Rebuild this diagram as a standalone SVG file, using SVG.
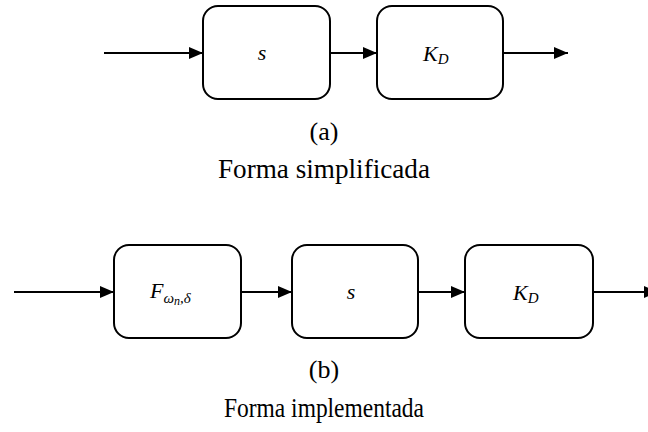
<svg xmlns="http://www.w3.org/2000/svg" width="648" height="432" viewBox="0 0 648 432">
  <defs>
    <marker id="arrow" viewBox="0 0 14 12" refX="14" refY="6" markerWidth="14" markerHeight="12" markerUnits="userSpaceOnUse" orient="auto">
      <path d="M0,0 L14,6 L0,12 Z" fill="#000"/>
    </marker>
    <style>
      .block { fill: #fff; stroke: #000; stroke-width: 2; }
      .wire { fill: none; stroke: #000; stroke-width: 2; marker-end: url(#arrow); }
      .math { font-family: "Liberation Serif", "DejaVu Serif", serif; font-style: italic; font-size: 22px; fill: #000; }
      .sub { font-size: 15px; }
      .subsub { font-size: 12px; }
      .cap { font-family: "Liberation Serif", "DejaVu Serif", serif; font-size: 28px; fill: #000; text-anchor: middle; }
      .tag { font-family: "Liberation Serif", "DejaVu Serif", serif; font-size: 26px; fill: #000; text-anchor: middle; }
    </style>
  </defs>

  <!-- (a) simplified form -->
  <g id="a-s">
    <rect class="block" x="203" y="6" width="127" height="93" rx="15"/>
    <text class="math" x="262" y="60" text-anchor="middle">s</text>
  </g>
  <g id="a-kd">
    <rect class="block" x="377" y="6" width="126" height="93" rx="15"/>
    <text class="math" x="423" y="61">K<tspan class="sub" dy="3">D</tspan></text>
  </g>
  <g id="a-connectors">
    <line class="wire" x1="104" y1="53" x2="203" y2="53"/>
    <line class="wire" x1="330" y1="53" x2="377" y2="53"/>
    <line class="wire" x1="503" y1="53" x2="568" y2="53"/>
  </g>
  <text class="tag" x="324" y="140">(a)</text>
  <text class="cap" x="324" y="178" textLength="212" lengthAdjust="spacingAndGlyphs">Forma simplificada</text>

  <!-- (b) implemented form -->
  <g id="b-f">
    <rect class="block" x="114" y="245" width="127" height="93" rx="15"/>
    <text class="math" x="150" y="298">F<tspan class="sub" dy="5">ω</tspan><tspan class="subsub" dy="2">n</tspan><tspan class="sub" dy="-2">,δ</tspan></text>
  </g>
  <g id="b-s">
    <rect class="block" x="292" y="245" width="126" height="93" rx="15"/>
    <text class="math" x="351" y="299" text-anchor="middle">s</text>
  </g>
  <g id="b-kd">
    <rect class="block" x="465" y="245" width="128" height="93" rx="15"/>
    <text class="math" x="513" y="300">K<tspan class="sub" dy="3">D</tspan></text>
  </g>
  <g id="b-connectors">
    <line class="wire" x1="14" y1="292" x2="114" y2="292"/>
    <line class="wire" x1="241" y1="292" x2="292" y2="292"/>
    <line class="wire" x1="418" y1="292" x2="465" y2="292"/>
    <line class="wire" x1="593" y1="292" x2="658" y2="292"/>
  </g>
  <text class="tag" x="324" y="378">(b)</text>
  <text class="cap" x="324" y="417" textLength="200" lengthAdjust="spacingAndGlyphs">Forma implementada</text>
</svg>
